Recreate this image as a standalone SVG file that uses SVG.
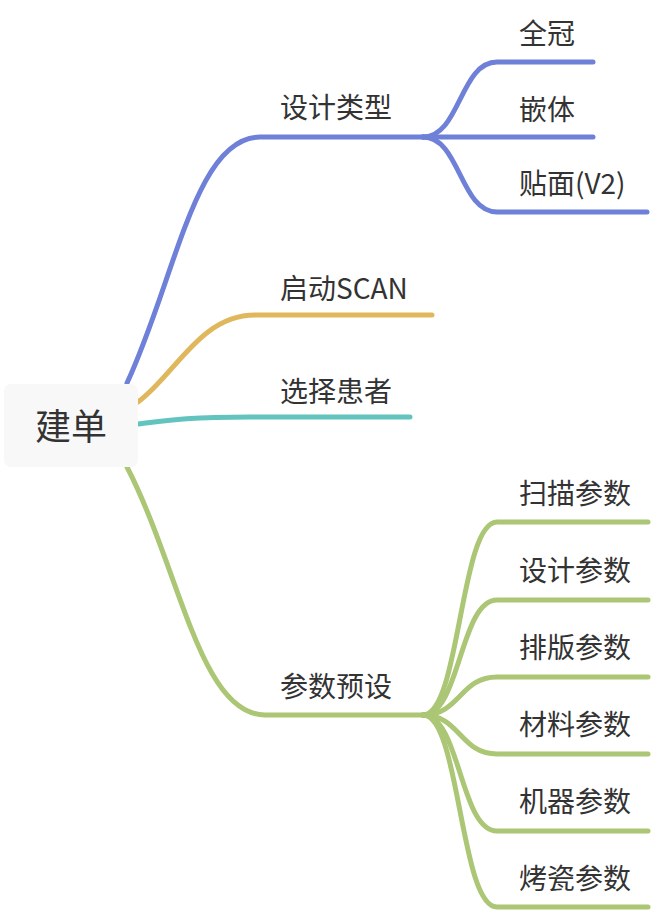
<svg xmlns="http://www.w3.org/2000/svg" width="652" height="912" viewBox="0 0 652 912">
<style>
text{font-family:"Noto Sans CJK SC","Noto Sans",sans-serif;fill:#333333}
.lbl{font-size:28px}
.root{font-size:36px}
.ln{fill:none;stroke-width:5;stroke-linecap:round;stroke-linejoin:round}
.b{stroke:#6f80d8}
.y{stroke:#e0b75c}
.t{stroke:#63c4bf}
.g{stroke:#abc674}
</style>
<rect width="652" height="912" fill="#ffffff"/>
<g id="connectors">
<path class="ln b" d="M127,383 C175,280 195,137 260,137 L423,137"/>
<path class="ln b" d="M423,137 C460,137 460,62 497,62 L593,62"/>
<path class="ln b" d="M423,137 L593,137"/>
<path class="ln b" d="M423,137 C460,137 460,212 497,212 L647,212"/>
<path class="ln y" d="M138,402 C175,375 200,315 255,315 L432,315"/>
<path class="ln t" d="M138,424 C170,420 190,417 250,417 L410,417"/>
<path class="ln g" d="M127,467 C180,570 200,715 265,715 L423,715"/>
<path class="ln g" d="M423,715 C460,715 460,522 497,522 L648,522"/>
<path class="ln g" d="M423,715 C460,715 460,600 497,600 L648,600"/>
<path class="ln g" d="M423,715 C460,715 460,677 497,677 L648,677"/>
<path class="ln g" d="M423,715 C460,715 460,754 497,754 L648,754"/>
<path class="ln g" d="M423,715 C460,715 460,831 497,831 L648,831"/>
<path class="ln g" d="M423,715 C460,715 460,907 497,907 L648,907"/>
</g>
<g id="root">
<rect x="4" y="384" width="134" height="83" rx="7" fill="#f8f8f8"/>
<text class="root" x="71" y="440" text-anchor="middle">建单</text>
</g>
<g id="n-design-type"><text class="lbl" x="280" y="117.5">设计类型</text></g>
<g id="n-crown"><text class="lbl" x="519" y="43.5">全冠</text></g>
<g id="n-inlay"><text class="lbl" x="519" y="119.5">嵌体</text></g>
<g id="n-veneer"><text class="lbl" x="519" y="193.5">贴面(V2)</text></g>
<g id="n-scan"><text class="lbl" x="280" y="298.5">启动SCAN</text></g>
<g id="n-patient"><text class="lbl" x="280" y="401.5">选择患者</text></g>
<g id="n-params"><text class="lbl" x="280" y="696.5">参数预设</text></g>
<g id="n-scan-params"><text class="lbl" x="519" y="503.5">扫描参数</text></g>
<g id="n-design-params"><text class="lbl" x="519" y="580.5">设计参数</text></g>
<g id="n-layout-params"><text class="lbl" x="519" y="657.5">排版参数</text></g>
<g id="n-material-params"><text class="lbl" x="519" y="734.5">材料参数</text></g>
<g id="n-machine-params"><text class="lbl" x="519" y="811.5">机器参数</text></g>
<g id="n-porcelain-params"><text class="lbl" x="519" y="888.5">烤瓷参数</text></g>
</svg>
